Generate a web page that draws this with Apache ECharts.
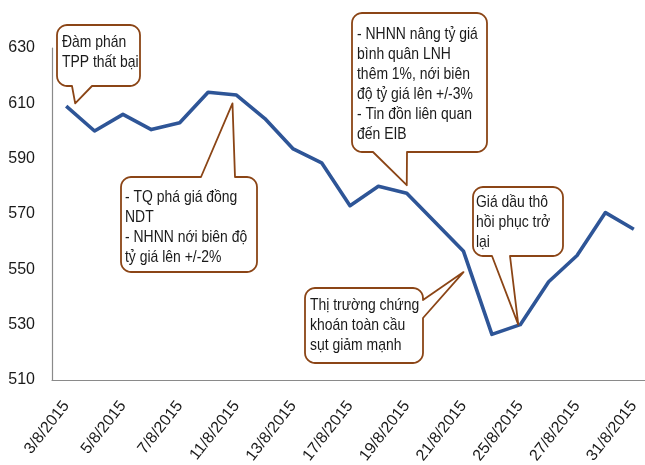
<!DOCTYPE html>
<html>
<head>
<meta charset="utf-8">
<script src="https://cdn.jsdelivr.net/npm/echarts@6/dist/echarts.min.js"></script>
<style>
  html, body { margin: 0; padding: 0; background: #ffffff; }
  #chart { width: 645px; height: 465px; }
</style>
</head>
<body>
<div id="chart"></div>
<script>
// Trading days of August 2015
const dates = ['3/8/2015', '4/8/2015', '5/8/2015', '6/8/2015', '7/8/2015',
  '10/8/2015', '11/8/2015', '12/8/2015', '13/8/2015', '14/8/2015',
  '17/8/2015', '18/8/2015', '19/8/2015', '20/8/2015', '21/8/2015',
  '24/8/2015', '25/8/2015', '26/8/2015', '27/8/2015', '28/8/2015', '31/8/2015'];

// Index values per day
const values = [609, 600, 606, 600.5, 603, 614, 613, 604.5, 593.5, 588.5,
  573, 580, 577.5, 567, 556.5, 526.5, 530, 545.5, 555, 570.5, 564.5];

// Value axis range
const yMin = 510;
const yMax = 630;
const yStep = 20;

// Event notes and the [day index, value] each note points at
const noteTexts = [
  'Đàm phán\nTPP thất bại',
  '- TQ phá giá đồng\nNDT\n- NHNN nới biên độ\ntỷ giá lên +/-2%',
  '- NHNN nâng tỷ giá\nbình quân LNH\nthêm 1%, nới biên\nđộ tỷ giá lên +/-3%\n- Tin đồn liên quan\nđến EIB',
  'Thị trường chứng\nkhoán toàn cầu\nsụt giảm mạnh',
  'Giá dầu thô\nhồi phục trở\nlại'
];
const noteAnchors = [[0, 610], [6, 610], [12, 580.4], [14, 549], [16, 530]];

// Callout box placement (pixels): box, tail side, tail base, tip nudge, text origin
const noteLayout = [
  { x: 57,  y: 25,  w: 83,  h: 61,  side: 'bottom', base: [72, 92],   dx: 9,  tx: 62,  ty: 32 },
  { x: 121, y: 177, w: 136, h: 95,  side: 'top',    base: [201, 235], dx: -4, tx: 125, ty: 187 },
  { x: 352, y: 13,  w: 135, h: 139, side: 'bottom', base: [373, 407], dx: 0,  tx: 357, ty: 24 },
  { x: 305, y: 288, w: 118, h: 75,  side: 'right',  base: [300, 318], dx: 0,  tx: 310, ty: 295 },
  { x: 473, y: 187, w: 90,  h: 69,  side: 'bottom', base: [492, 510], dx: -2, tx: 476, ty: 192 }
];

const LINE_COLOR = '#2E5597';
const NOTE_COLOR = '#8B4516';
const AXIS_COLOR = '#8a8a8a';
const TEXT_COLOR = '#1a1a1a';
const SANS = '"Liberation Sans", Arial, sans-serif';

const chart = echarts.init(document.getElementById('chart'), null, { renderer: 'canvas' });

chart.setOption({
  animation: false,
  backgroundColor: '#ffffff',
  grid: { left: 52, top: 48, width: 596, height: 332, containLabel: false, outerBoundsMode: 'none' },
  xAxis: {
    type: 'category',
    data: dates,
    boundaryGap: true,
    axisLine: { show: true, lineStyle: { color: AXIS_COLOR, width: 1.2 } },
    axisTick: { show: false },
    splitLine: { show: false },
    axisLabel: {
      interval: 1,
      rotate: 52,
      margin: 23,
      color: TEXT_COLOR,
      fontSize: 16,
      fontFamily: SANS
    }
  },
  yAxis: {
    type: 'value',
    min: yMin,
    max: yMax,
    interval: yStep,
    axisLine: { show: true, lineStyle: { color: AXIS_COLOR, width: 1.2 } },
    axisTick: { show: false },
    splitLine: { show: false },
    axisLabel: {
      margin: 17,
      color: TEXT_COLOR,
      fontSize: 16,
      fontFamily: SANS
    }
  },
  series: [{
    type: 'line',
    data: values,
    symbol: 'none',
    smooth: false,
    lineStyle: { color: LINE_COLOR, width: 3.6, join: 'round' },
    z: 2
  }]
});

// Quarter-circle corner sampled into points
function corner(cx, cy, r, a0, pts) {
  const n = 6;
  for (let k = 0; k <= n; k++) {
    const a = a0 + (Math.PI / 2) * (k / n);
    pts.push([cx + r * Math.cos(a), cy + r * Math.sin(a)]);
  }
}

// Rounded box outline with a pointed tail on one side
function calloutPoints(b, tip) {
  const r = 10;
  const x = b.x, y = b.y, w = b.w, h = b.h;
  const pts = [];
  corner(x + r, y + r, r, Math.PI, pts);              // top-left
  if (b.side === 'top') {
    pts.push([b.base[0], y], tip, [b.base[1], y]);
  }
  corner(x + w - r, y + r, r, -Math.PI / 2, pts);     // top-right
  if (b.side === 'right') {
    pts.push([x + w, b.base[0]], tip, [x + w, b.base[1]]);
  }
  corner(x + w - r, y + h - r, r, 0, pts);            // bottom-right
  if (b.side === 'bottom') {
    pts.push([b.base[1], y + h], tip, [b.base[0], y + h]);
  }
  corner(x + r, y + h - r, r, Math.PI / 2, pts);      // bottom-left
  return pts;
}

const graphics = [];
noteTexts.forEach(function (txt, i) {
  const a = noteAnchors[i];
  const b = noteLayout[i];
  const p = chart.convertToPixel({ gridIndex: 0 }, [dates[a[0]], a[1]]);
  const tip = [p[0] + b.dx, p[1]];
  graphics.push({
    type: 'polygon',
    shape: { points: calloutPoints(b, tip) },
    style: { fill: '#ffffff', stroke: NOTE_COLOR, lineWidth: 1.8, lineJoin: 'round' },
    z: 10
  });
  // condensed note lettering: regular sans squeezed horizontally
  graphics.push({
    type: 'text',
    x: b.tx,
    y: b.ty,
    scaleX: 0.82,
    style: {
      text: txt,
      x: 0,
      y: 0,
      fill: TEXT_COLOR,
      font: '17px ' + SANS,
      lineHeight: 20,
      verticalAlign: 'top'
    },
    z: 11
  });
});

chart.setOption({ graphic: graphics });
</script>
</body>
</html>
